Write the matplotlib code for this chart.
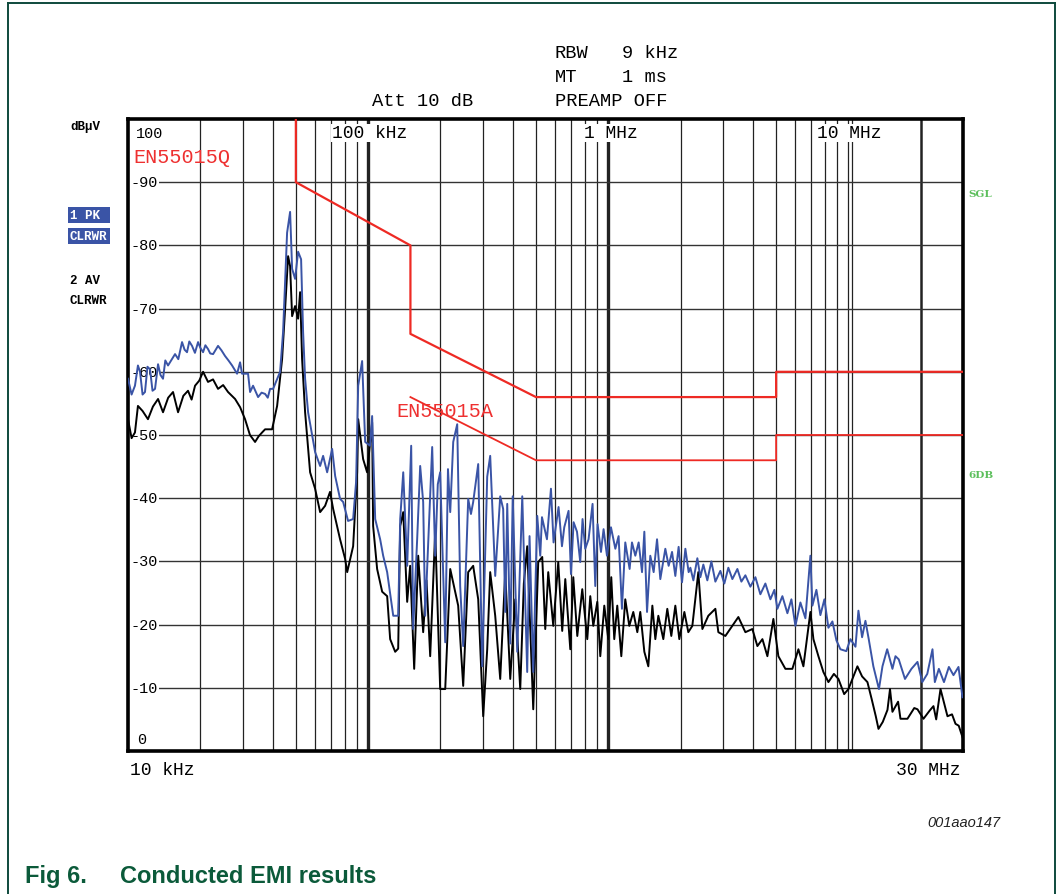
import matplotlib
matplotlib.use('Agg')
import matplotlib.pyplot as plt
from matplotlib.lines import Line2D

# peak detector trace (kHz, dBuV)
pk_freq = [10.0, 10.35, 10.69, 11.0, 11.22, 11.5, 11.77, 12.05, 12.35, 12.65,
           12.96, 13.34, 13.65, 13.99, 14.3, 14.68, 15.70, 16.2, 16.79, 17.2,
           17.61, 18.0, 18.48, 19.0, 19.58, 20.0, 20.54, 21.0, 21.54, 22.0,
           22.61, 23.2, 23.71, 24.5, 25.36, 26.2, 27.13, 28.46, 29.29, 29.85,
           31.62, 32.24, 33.17, 34.81, 36.0, 37.23, 38.2, 39.06, 40.2,
           42.99, 44.24, 45.97, 47.32, 48.24, 49.64, 51.09, 52.58, 53.60, 54.64,
           56.23, 60.14, 63.10, 64.94, 67.5, 70.8, 72.9, 76.4, 78.7, 82.5,
           86.6, 89.1, 90.9, 94.4, 97.2, 101.9, 103.9, 107, 112.2, 115.5,
           120, 127.2, 133.4, 136, 140, 145.4, 151.1, 154, 160, 164.7,
           169.5, 172.8, 184.8, 190.2, 195, 199.5, 209.4, 215, 219.7, 226.1,
           234.9, 241.7, 248.8, 261, 268, 273.8, 287.3, 298.5, 313.2, 322.3,
           338.2, 354.8, 365, 372.3, 379.5, 390.6, 400, 417.7, 438.3, 459.6,
           470, 487, 506, 520.9, 529.5, 555.4, 577.1, 591.7, 620.8, 641.4,
           655.7, 683.3, 699.3, 717, 740.8, 764.2, 781.3, 801.9, 827.7, 860.1,
           882.7, 902.4, 932.4, 955.9, 987.6, 1026, 1070, 1104, 1140, 1177,
           1227, 1255, 1296, 1338, 1382, 1413, 1450, 1496, 1545, 1596,
           1647, 1728, 1784, 1843, 1902, 1963, 2028, 2094, 2161, 2197,
           2261, 2349, 2418, 2488, 2585, 2687, 2792, 2929, 3043, 3162,
           3286, 3448, 3583, 3723, 3906, 4098, 4299, 4510, 4732, 4917,
           5060, 5309, 5570, 5788, 6015, 6310, 6620, 6945, 7079, 7356,
           7643, 7943, 8254, 8577, 8913, 9259, 9800, 10190, 10700, 11007,
           11400, 11770, 12150, 12700, 13400, 13860, 14500, 15250, 15700, 16200,
           17200, 18300, 19390, 20300, 21300, 22390, 22900, 23800, 25000, 26200,
           27380, 28730, 29850]
pk_level = [58.9, 56.4, 57.8, 61.0, 60.0, 56.4, 56.8, 60.8, 60.4, 57.0,
            57.3, 61.2, 59.5, 58.9, 61.8, 61.0, 62.8, 62.0, 64.7, 63.5,
            63.1, 64.8, 64.1, 63.0, 64.7, 63.8, 63.1, 64.2, 63.6, 62.9,
            62.8, 63.5, 64.1, 63.4, 62.5, 61.8, 61.0, 59.7, 61.5, 59.7,
            59.7, 56.8, 57.8, 56.0, 56.7, 56.5, 55.9, 57.3, 57.3,
            60.0, 66.3, 82.0, 85.3, 76.3, 74.7, 79.0, 77.8, 66.3, 58.9,
            53.6, 47.3, 45.1, 46.7, 44.1, 47.8, 43.5, 39.9, 39.4, 36.4,
            36.7, 42.6, 57.8, 61.7, 48.9, 48.3, 53.0, 36.7, 33.5, 30.9,
            28.3, 21.4, 21.4, 36.7, 44.1, 29.3, 48.3, 19.3, 33.5, 45.1,
            39.4, 21.4, 48.1, 30.9, 42.2, 44.1, 17.2, 44.6, 37.8, 48.9,
            51.7, 26.1, 16.6, 39.9, 37.5, 39.4, 45.4, 13.4, 43.4, 46.7,
            27.7, 40.3, 38.3, 22.0, 39.1, 17.0, 40.3, 15.7, 40.3, 12.5,
            34.0, 12.5, 37.2, 30.9, 37.0, 33.5, 41.5, 33.0, 38.6, 32.4,
            35.4, 38.0, 28.0, 36.2, 34.7, 29.9, 36.7, 32.0, 33.5, 39.1,
            26.1, 35.9, 31.5, 35.1, 30.9, 35.4, 32.0, 34.0, 22.5, 33.0,
            28.8, 33.0, 30.9, 33.0, 28.3, 34.7, 22.0, 30.9, 28.3, 33.5,
            27.2, 32.0, 29.3, 31.5, 27.7, 32.3, 26.7, 32.0, 28.3, 29.0,
            27.0, 30.5, 27.5, 29.5, 27.0, 30.0, 26.8, 28.5, 26.5, 29.0,
            27.2, 28.8, 26.8, 27.8, 26.0, 27.5, 24.8, 26.5, 24.0, 25.5,
            22.5, 24.5, 21.8, 24.0, 19.8, 23.5, 21.0, 30.9, 23.0, 25.5,
            21.5, 24.0, 19.5, 20.5, 17.5, 16.1, 15.8, 17.7, 16.5, 22.2,
            18.0, 20.6, 17.7, 13.4, 9.8, 13.4, 16.1, 13.0, 15.0, 14.5,
            11.4, 13.0, 14.1, 10.9, 12.2, 16.1, 10.9, 13.0, 10.9, 13.3,
            12.0, 13.3, 8.5]

# average detector trace (kHz, dBuV)
av_freq = [10.0, 10.35, 10.69, 11.0, 11.5, 12.11, 12.7, 13.34, 13.99, 14.7,
           15.40, 16.16, 17.0, 17.78, 18.4, 19.02, 19.8, 20.54, 21.54, 22.6,
           23.71, 24.9, 26.10, 27.92, 29.3, 30.72, 32.2, 33.82, 35.0, 36.17,
           37.23, 39.81, 41.78, 43.82, 45.10, 46.42, 47.32, 48.24, 49.64, 51.09,
           52.08, 53.09, 54.64, 57.32, 60.14, 63.10, 66.2, 69.4, 71.5, 76.4,
           80.2, 81.8, 86.6, 90.0, 90.9, 95.3, 99.0, 103.9, 104.9, 109,
           114.4, 120, 123.5, 129.6, 133.4, 136, 140, 145.4, 149.6, 155.5,
           161.6, 169.5, 175, 181.3, 190.2, 199.5, 209.4, 219.7, 230.4, 237.1,
           248.8, 261, 273.8, 287.3, 301.4, 313.2, 322.3, 338.2, 354.8, 372.3,
           390.6, 409.8, 429.9, 445, 459.6, 487, 510.9, 530.9, 546.4, 562.3,
           590.1, 619, 643, 662.1, 694.7, 714.9, 742.9, 779.2, 817.5, 841.4,
           866, 900, 926.1, 962.4, 1000, 1029, 1059, 1090, 1133, 1177,
           1223, 1271, 1321, 1359, 1413, 1468, 1526, 1570, 1616, 1695,
           1761, 1830, 1902, 1976, 2074, 2154, 2239, 2371, 2465, 2610,
           2792, 2873, 3073, 3286, 3481, 3723, 3981, 4177, 4384, 4598,
           4870, 5108, 5464, 5843, 6190, 6494, 6945, 7148, 7499, 7866,
           8254, 8700, 9086, 9600, 10000, 10900, 11400, 12000, 12500, 13000,
           13340, 13900, 14540, 14900, 15250, 16100, 16470, 17610, 18800, 19390,
           20540, 21800, 22600, 23200, 24180, 25850, 27000, 27920, 28800, 29850]
av_level = [52.5, 49.5, 50.4, 54.6, 53.8, 52.5, 54.5, 55.7, 53.6, 55.9,
            56.8, 53.6, 56.2, 57.0, 55.6, 57.8, 58.6, 60.0, 58.4, 58.8,
            57.3, 57.9, 56.8, 55.7, 54.4, 52.5, 50.0, 48.9, 49.8, 50.4,
            50.9, 50.9, 54.6, 62.0, 69.9, 78.3, 76.7, 68.8, 70.4, 68.4,
            72.6, 62.0, 53.6, 44.1, 41.5, 37.8, 38.8, 41.0, 38.3, 33.5,
            30.4, 28.3, 32.4, 44.1, 52.5, 46.2, 44.1, 52.0, 35.6, 28.8,
            25.2, 24.5, 17.7, 15.7, 16.2, 35.6, 37.8, 23.6, 29.3, 13.0,
            30.9, 18.8, 27.0, 15.0, 34.7, 9.8, 9.8, 28.8, 25.2, 23.0,
            10.3, 28.3, 29.3, 24.0, 5.5, 16.1, 28.3, 21.4, 11.4, 28.3,
            11.4, 24.0, 9.8, 26.5, 32.4, 6.6, 29.9, 30.7, 19.3, 28.3,
            19.8, 29.9, 19.0, 27.2, 16.1, 27.5, 18.2, 25.6, 17.7, 24.5,
            19.8, 23.6, 15.0, 23.0, 17.7, 27.5, 17.7, 23.0, 15.0, 24.0,
            19.8, 22.0, 18.8, 22.0, 15.7, 13.4, 23.0, 17.7, 21.4, 17.7,
            22.5, 18.2, 23.0, 17.7, 22.0, 18.8, 19.8, 28.3, 19.3, 21.4,
            22.5, 18.8, 18.2, 19.8, 21.2, 18.8, 19.3, 16.6, 17.7, 15.0,
            20.9, 15.0, 13.0, 13.0, 16.1, 13.4, 22.0, 17.7, 15.0, 12.5,
            10.9, 12.2, 11.4, 9.0, 9.8, 13.4, 11.8, 10.9, 8.2, 5.5,
            3.5, 4.6, 6.5, 9.8, 6.2, 7.8, 5.1, 5.1, 6.8, 6.6,
            5.1, 6.4, 7.1, 5.0, 9.8, 5.5, 5.8, 4.3, 4.0, 2.2]

# EN55015 limit lines
qp_freq = [50, 50, 150, 150, 500, 5000, 5000, 30000]
qp_level = [100, 90, 80, 66, 56, 56, 60, 60]
av_lim_freq = [150, 500, 5000, 5000, 30000]
av_lim_level = [56, 46, 46, 50, 50]

mono = 'Liberation Mono'
green = '#0b5a3a'

fig = plt.figure(figsize=(10.63, 8.95), dpi=100)
ax = fig.add_axes([128/1063, 1 - 752/895, 835/1063, 632/895])
ax.set_xscale('log')
ax.set_xlim(10, 30000)
ax.set_ylim(0, 100)
ax.set_xticks([])
ax.set_yticks([])
ax.minorticks_off()
for s in ax.spines.values():
    s.set_linewidth(2.6)

# grid
for dec in [10, 100, 1000, 10000]:
    for m in range(1, 10):
        f = dec * m
        if f <= 10 or f >= 30000:
            continue
        lw = 0.9
        if f in (100, 1000):
            lw = 2.4
        elif f == 20000:
            lw = 1.8
        ax.axvline(f, color='#222222', lw=lw, zorder=1)
ax.axvline(10300, color='#222222', lw=0.9, zorder=1)
for lev in range(10, 100, 10):
    ax.axhline(lev, color='#333333', lw=1.0, zorder=1)

# level labels inside the plot
lab_box = dict(facecolor='white', edgecolor='none', pad=1.0)
ax.text(10.75, 97.8, '100', family=mono, fontsize=11, va='center', ha='left',
        bbox=lab_box, zorder=2)
for lev in range(10, 100, 10):
    ax.text(10.25, lev, '-' + str(lev), family=mono, fontsize=11, va='center',
            ha='left', bbox=lab_box, zorder=2)
ax.text(10.9, 1.9, '0', family=mono, fontsize=11, va='center', ha='left', zorder=2)

for f, txt in [(70.8, '100 kHz'), (794, '1 MHz'), (7430, '10 MHz')]:
    ax.text(f, 97.8, txt, family=mono, fontsize=13, va='center', ha='left',
            bbox=dict(facecolor='white', edgecolor='none', pad=0.5), zorder=2)

# limits
ax.plot(qp_freq, qp_level, color='#ee2a24', lw=1.6, zorder=3)
ax.plot(av_lim_freq, av_lim_level, color='#ee2a24', lw=1.3, zorder=3)
ax.text(10.5, 94.0, 'EN55015Q', family=mono, fontsize=14.5, color='#ee3030',
        va='center', ha='left', zorder=4)
ax.text(130.6, 53.9, 'EN55015A', family=mono, fontsize=14.5, color='#ee3030',
        va='center', ha='left', zorder=4)

# traces
ax.plot(av_freq, av_level, color='black', lw=1.4, zorder=3)
ax.plot(pk_freq, pk_level, color='#3a54a6', lw=1.4, zorder=3)

# header
hs = 13.5
fig.text(555/1063, 1 - 54/895, 'RBW', family=mono, fontsize=hs, va='center')
fig.text(622/1063, 1 - 54/895, '9 kHz', family=mono, fontsize=hs, va='center')
fig.text(555/1063, 1 - 77/895, 'MT', family=mono, fontsize=hs, va='center')
fig.text(622/1063, 1 - 77/895, '1 ms', family=mono, fontsize=hs, va='center')
fig.text(372/1063, 1 - 101/895, 'Att 10 dB', family=mono, fontsize=hs, va='center')
fig.text(555/1063, 1 - 101/895, 'PREAMP OFF', family=mono, fontsize=hs, va='center')

# side annotations
fig.text(70/1063, 1 - 127/895, 'dBµV', family=mono, fontsize=9, weight='bold',
         va='center')
fig.text(70/1063, 1 - 216/895, '1 PK ', family=mono, fontsize=9, weight='bold',
         va='center', color='white',
         bbox=dict(facecolor='#3a54a6', edgecolor='none', pad=1.5))
fig.text(70/1063, 1 - 237/895, 'CLRWR', family=mono, fontsize=9, weight='bold',
         va='center', color='white',
         bbox=dict(facecolor='#3a54a6', edgecolor='none', pad=1.5))
fig.text(70/1063, 1 - 281/895, '2 AV', family=mono, fontsize=9, weight='bold',
         va='center')
fig.text(70/1063, 1 - 301/895, 'CLRWR', family=mono, fontsize=9, weight='bold',
         va='center')
fig.text(968/1063, 1 - 195/895, 'SGL', family='DejaVu Serif', fontsize=7.5,
         weight='bold', va='center', color='#5cbf5c')
fig.text(968/1063, 1 - 475/895, '6DB', family='DejaVu Serif', fontsize=7.5,
         weight='bold', va='center', color='#5cbf5c')

fig.text(130/1063, 1 - 771/895, '10 kHz', family=mono, fontsize=13, va='center')
fig.text(961/1063, 1 - 771/895, '30 MHz', family=mono, fontsize=13, va='center',
         ha='right')

fig.text(1000/1063, 1 - 823/895, '001aao147', family='Liberation Sans',
         fontsize=10.5, style='italic', va='center', ha='right', color='#222222')
fig.text(25/1063, 1 - 877/895, 'Fig 6.', family='Liberation Sans',
         fontsize=17, weight='bold', va='center', color=green)
fig.text(120/1063, 1 - 877/895, 'Conducted EMI results', family='Liberation Sans',
         fontsize=17, weight='bold', va='center', color=green)

# outer frame of the figure
for xs, ys in [([8, 8], [895, 4]), ([8, 1055], [4, 4]), ([1055, 1055], [4, 895])]:
    fig.add_artist(Line2D([x/1063 for x in xs], [1 - y/895 for y in ys],
                          color='#0e4a3c', lw=1.4))

fig.savefig('out.png', dpi=100)
